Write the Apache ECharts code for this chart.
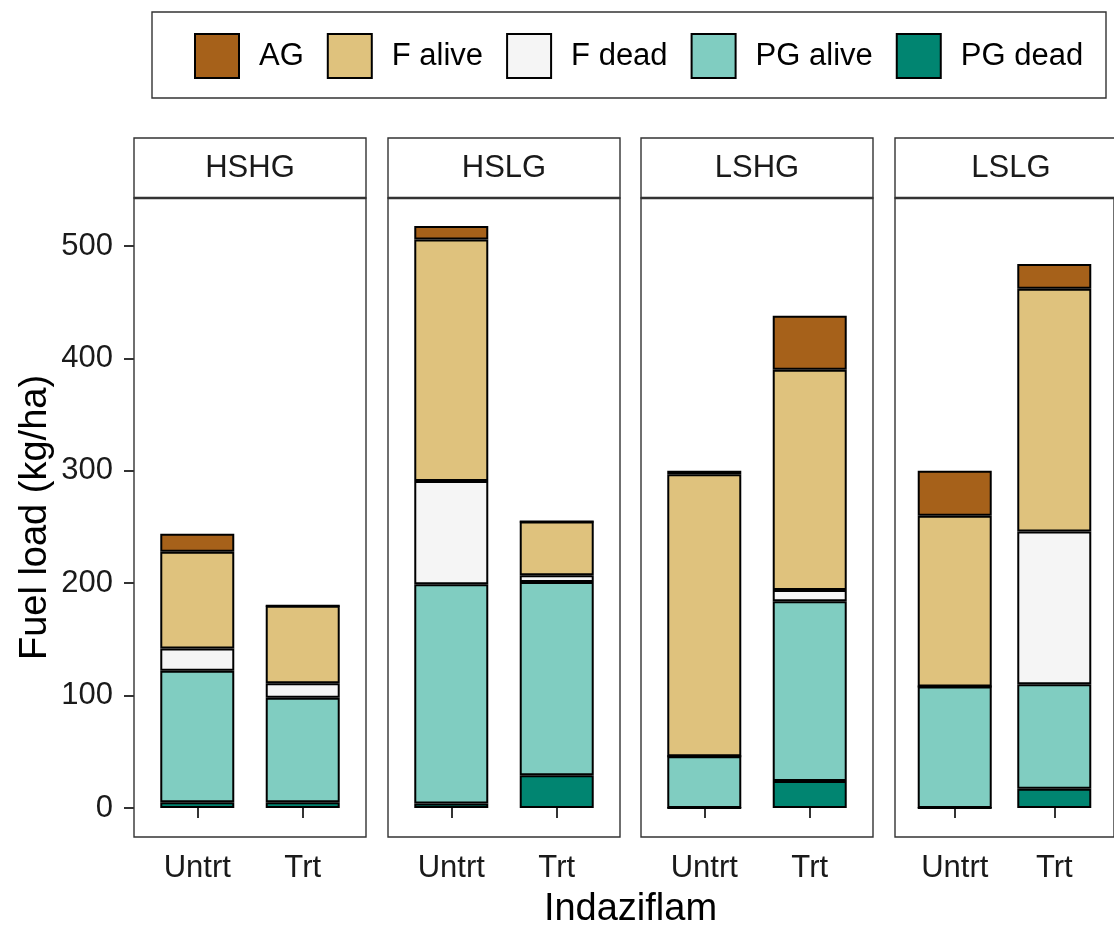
<!DOCTYPE html>
<html>
<head>
<meta charset="utf-8">
<script src="https://cdn.jsdelivr.net/npm/echarts@6/dist/echarts.min.js"></script>
<style>
html,body{margin:0;padding:0;background:#fff;}
#chart{width:1114px;height:928px;}
</style>
</head>
<body>
<div id="chart"></div>
<script>
// ---- data ----
const facets = ['HSHG', 'HSLG', 'LSHG', 'LSLG'];
const treatments = ['Untrt', 'Trt'];
// values ordered facet by facet: [HSHG Untrt, HSHG Trt, HSLG Untrt, HSLG Trt, ...]
const pgDead  = [5, 5, 4, 29, 0, 24, 0, 17];
const pgAlive = [117, 93, 195, 172, 46, 160, 108, 93];
const fDead   = [20, 13, 92, 6, 0, 10, 0, 136];
const fAlive  = [86, 69, 215, 48, 251, 196, 152, 216];
const ag      = [16, 0, 12, 0, 3, 48, 40, 22];
const yTicks  = [0, 100, 200, 300, 400, 500];
const legendOrder = ['AG', 'F alive', 'F dead', 'PG alive', 'PG dead'];

// ---- styling / layout ----
const components = [
  { name: 'PG dead',  values: pgDead,  color: '#018571' },
  { name: 'PG alive', values: pgAlive, color: '#80CDC1' },
  { name: 'F dead',   values: fDead,   color: '#F5F5F5' },
  { name: 'F alive',  values: fAlive,  color: '#DFC27D' },
  { name: 'AG',       values: ag,      color: '#A6611A' }
];
const FONT = 'Liberation Sans, Arial, Helvetica, sans-serif';
const panelLeft = [134, 388, 641, 895];
const panelW = 232, panelTop = 198, panelH = 639;
const stripTop = 138, stripH = 60;
// ggplot discrete positions: 12 evenly spaced slots, treatments sit at slot 3 and 8
const NSLOT = 12, SLOTS = [3, 8];
const slotNames = [];
for (let i = 0; i < NSLOT; i++) slotNames.push('_' + i);
SLOTS.forEach((s, k) => { slotNames[s] = treatments[k]; });
const isReal = (idx) => SLOTS.indexOf(idx) >= 0;

const grids = [], xAxes = [], yAxes = [], series = [], graphics = [];

facets.forEach((f, fi) => {
  grids.push({
    left: panelLeft[fi], top: panelTop, width: panelW, height: panelH,
    show: true, borderColor: '#333', borderWidth: 1.4, backgroundColor: 'transparent',
    containLabel: false
  });
  xAxes.push({
    type: 'category', gridIndex: fi, data: slotNames, boundaryGap: false,
    axisLine: { show: false },
    axisTick: { show: true, length: 10, interval: (i) => isReal(i), lineStyle: { color: '#333', width: 2 } },
    axisLabel: { show: true, interval: (i) => isReal(i), fontSize: 31, color: '#1a1a1a', fontFamily: FONT, margin: 16 },
    splitLine: { show: false }
  });
  yAxes.push({
    type: 'value', gridIndex: fi, min: -25.85, max: 542.85,
    show: fi === 0,
    axisLine: { show: false },
    axisTick: { show: fi === 0, length: 10, customValues: yTicks, lineStyle: { color: '#333', width: 2 } },
    axisLabel: { show: fi === 0, customValues: yTicks, fontSize: 31, color: '#1a1a1a', fontFamily: FONT, margin: 21 },
    splitLine: { show: false },
    name: fi === 0 ? 'Fuel load (kg/ha)' : '',
    nameLocation: 'middle', nameGap: 79, nameRotate: 90,
    nameTextStyle: { fontSize: 38, color: '#000', fontFamily: FONT }
  });
  components.forEach((c) => {
    const data = new Array(NSLOT).fill(null);
    SLOTS.forEach((s, k) => { data[s] = c.values[fi * treatments.length + k]; });
    series.push({
      type: 'bar', name: c.name, xAxisIndex: fi, yAxisIndex: fi,
      stack: 'facet' + fi, data: data, barWidth: 74,
      itemStyle: { color: c.color, borderColor: '#000', borderWidth: 2 },
      emphasis: { disabled: true }
    });
  });
  // facet strip
  graphics.push({
    type: 'rect', shape: { x: panelLeft[fi], y: stripTop, width: panelW, height: stripH },
    style: { fill: '#fff', stroke: '#333', lineWidth: 1.4 }, z: 10
  });
  graphics.push({
    type: 'line', shape: { x1: panelLeft[fi], y1: panelTop, x2: panelLeft[fi] + panelW, y2: panelTop },
    style: { stroke: '#333', lineWidth: 2.6 }, z: 11
  });
  graphics.push({
    type: 'text', x: panelLeft[fi] + panelW / 2, y: stripTop + stripH / 2,
    style: { text: f, fontSize: 31, fontFamily: FONT, fill: '#1a1a1a', align: 'center', verticalAlign: 'middle' }, z: 11
  });
});

// legend frame
graphics.push({
  type: 'rect', shape: { x: 152, y: 12, width: 954, height: 86 },
  style: { fill: 'none', stroke: '#333', lineWidth: 1.4 }, z: 1
});
// x-axis title
graphics.push({
  type: 'text', x: 630.5, y: 910,
  style: { text: 'Indaziflam', fontSize: 38, fontFamily: FONT, fill: '#000', align: 'center', verticalAlign: 'middle' }
});

const chart = echarts.init(document.getElementById('chart'), null, { renderer: 'canvas' });
chart.setOption({
  animation: false,
  backgroundColor: '#fff',
  legend: {
    data: legendOrder, left: 194, top: 33, orient: 'horizontal',
    itemWidth: 44, itemHeight: 44, itemGap: 23, padding: 0,
    icon: 'rect',
    itemStyle: { borderColor: '#000', borderWidth: 2 },
    textStyle: { fontSize: 31, color: '#000', fontFamily: FONT, padding: [0, 0, 0, 15] },
    selectedMode: false
  },
  grid: grids, xAxis: xAxes, yAxis: yAxes, series: series,
  graphic: graphics
});
</script>
</body>
</html>
